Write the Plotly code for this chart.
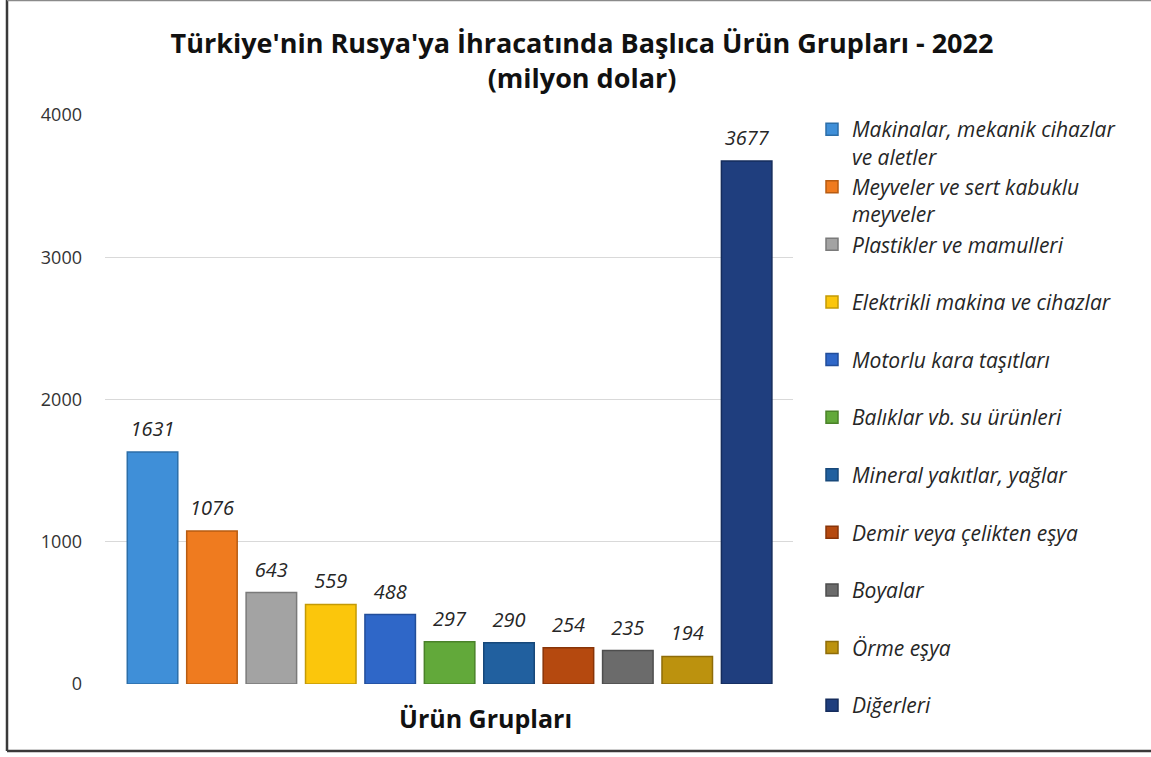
import plotly.graph_objects as go

categories = [
    "Makinalar, mekanik cihazlar<br>ve aletler",
    "Meyveler ve sert kabuklu<br>meyveler",
    "Plastikler ve mamulleri<br> ",
    "Elektrikli makina ve cihazlar<br> ",
    "Motorlu kara taşıtları<br> ",
    "Balıklar vb. su ürünleri<br> ",
    "Mineral yakıtlar, yağlar<br> ",
    "Demir veya çelikten eşya<br> ",
    "Boyalar<br> ",
    "Örme eşya<br> ",
    "Diğerleri",
]
values = [1631, 1076, 643, 559, 488, 297, 290, 254, 235, 194, 3677]
colors = ["#3f8fd8", "#ef7b1f", "#a3a3a3", "#fbc60c", "#2f67c8", "#62a93a",
          "#21609f", "#b5490f", "#6b6b6b", "#bc920e", "#1f3e7e"]
line_colors = ["#2c6ea8", "#b85c12", "#7a7a7a", "#c49a06", "#224e9a", "#4a8229",
               "#17487a", "#883408", "#4e4e4e", "#8e6c08", "#152c5c"]
group_label = "Ürün Grupları"
title_text = "Türkiye'nin Rusya'ya İhracatında Başlıca Ürün Grupları - 2022<br>(milyon dolar)"
y_ticks = [0, 1000, 2000, 3000, 4000]

FONT = "'Open Sans', 'Noto Sans', sans-serif"
W, H = 1151, 757
L, R, T, B = 105, 358, 115, 73
pw, ph = W - L - R, H - T - B

positions = list(range(len(values)))

fig = go.Figure()
for i, (name, v, c, lc) in enumerate(zip(categories, values, colors, line_colors)):
    fig.add_trace(go.Bar(
        x=[positions[i]], y=[v], name=name, width=[0.85],
        marker=dict(color=c, line=dict(color=lc, width=1.5)),
    ))

fig.add_trace(go.Scatter(
    x=positions, y=values, text=[str(v) for v in values],
    mode="markers+text", textposition="top center",
    marker=dict(size=16, opacity=0),
    textfont=dict(family=FONT, size=20, color="#262626", style="italic"),
    showlegend=False, hoverinfo="skip", cliponaxis=False,
))

def px_x(p):
    return (p - L) / pw

def px_y(p):
    return (H - B - p) / ph

shapes = [
    dict(type="line", xref="paper", yref="paper", x0=px_x(7), x1=px_x(7), y0=px_y(751), y1=px_y(0),
         line=dict(color="#3a3a3a", width=2.5)),
    dict(type="line", xref="paper", yref="paper", x0=px_x(7), x1=px_x(1151), y0=px_y(751), y1=px_y(751),
         line=dict(color="#3a3a3a", width=2.5)),
    dict(type="line", xref="paper", yref="paper", x0=px_x(7), x1=px_x(1151), y0=px_y(0.5), y1=px_y(0.5),
         line=dict(color="#8a8a8a", width=1.5)),
]

fig.update_layout(
    width=W, height=H,
    margin=dict(l=L, r=R, t=T, b=B),
    paper_bgcolor="white", plot_bgcolor="white",
    barmode="overlay",
    font=dict(family=FONT, color="#262626"),
    title=dict(text="<b>" + title_text.replace("<br>", "</b><br><b>") + "</b>",
               x=px_x(582), xanchor="center", xref="paper",
               y=1 - 53 / H, yanchor="middle",
               font=dict(family=FONT, size=27, color="#111111")),
    xaxis=dict(range=[-0.80, 10.78], showticklabels=False, showgrid=False,
               zeroline=False, showline=False, fixedrange=True),
    yaxis=dict(range=[0, 4000], tickvals=y_ticks, showgrid=True, gridcolor="#d9d9d9",
               gridwidth=1, zeroline=False, showline=False, ticks="",
               ticklabelstandoff=22, fixedrange=True,
               tickfont=dict(family=FONT, size=18, color="#333333")),
    legend=dict(x=px_x(812), y=px_y(109), xanchor="left", yanchor="top",
                valign="top", traceorder="normal", bgcolor="rgba(0,0,0,0)",
                maxheight=700,
                font=dict(family=FONT, size=21, color="#262626", style="italic"),
                itemclick=False, itemdoubleclick=False),
    annotations=[dict(text="<b>" + group_label + "</b>", xref="paper", yref="paper",
                      x=px_x(485), y=px_y(718), xanchor="center", yanchor="middle",
                      showarrow=False,
                      font=dict(family=FONT, size=25, color="#111111"))],
    shapes=shapes,
)

fig.write_html("out.html", config={"displayModeBar": False},
               post_script="document.body.style.margin='0';")
